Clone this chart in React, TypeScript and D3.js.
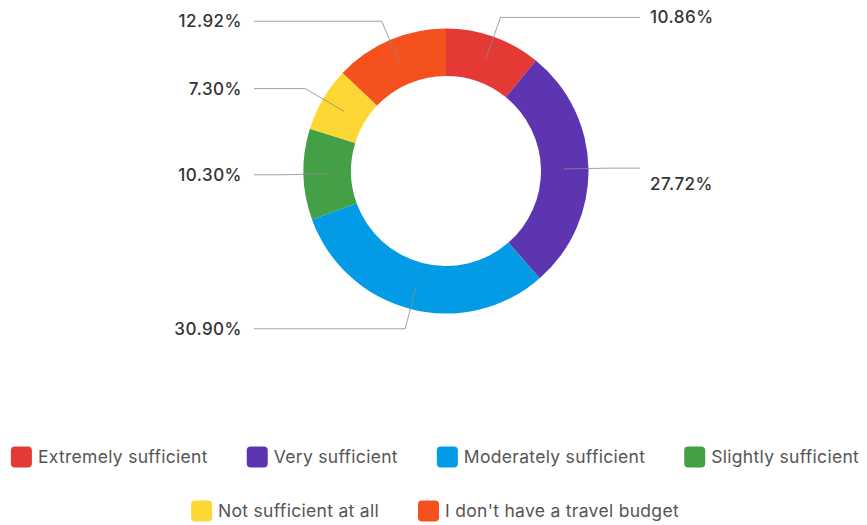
import React from "react";
import * as d3 from "d3";

const categories = [
  "Extremely sufficient",
  "Very sufficient",
  "Moderately sufficient",
  "Slightly sufficient",
  "Not sufficient at all",
  "I don't have a travel budget",
];
const values = [10.86, 27.72, 30.9, 10.3, 7.3, 12.92];
const colors = ["#E53935", "#5E35B1", "#039BE5", "#43A047", "#FDD835", "#F4511E"];
const labelDy = [0, 16, 0, 0, 0, 0];
const legendRows = [[0, 1, 2, 3], [4, 5]];

const W = 867;
const H = 525;
const cx = 446;
const cy = 171;
const outerR = 142.5;
const innerR = 95;
const lineR = 118;
const elbowR = 163;
const labelFont = "500 17px Inter";
const labelLS = 0.5;
const legendFont = "400 17.5px Inter";
const legendLS = 0.3;

function measure(text: string, font: string, ls: number): number {
  const c = document.createElement("canvas");
  const ctx = c.getContext("2d")!;
  ctx.font = font;
  return ctx.measureText(text).width + ls * text.length;
}

export default function App() {
  const pie = d3
    .pie<number>()
    .sort(null)
    .value((d) => d);
  const arcs = pie(values);
  const arc = d3
    .arc<d3.PieArcDatum<number>>()
    .innerRadius(innerR)
    .outerRadius(outerR);

  const sq = 21;
  const gapText = 6;
  const gapItem = 39;
  const legendCenter = 435;
  const rowY = [457, 511];

  return (
    <svg
      width={W}
      height={H}
      style={{ position: "absolute", left: 0, top: 0, background: "#fff" }}
    >
      <g transform={`translate(${cx},${cy})`}>
        {arcs.map((a, i) => (
          <path key={i} d={arc(a) || ""} fill={colors[i]} />
        ))}
      </g>
      {arcs.map((a, i) => {
        const mid = (a.startAngle + a.endAngle) / 2;
        const sx = cx + lineR * Math.sin(mid);
        const sy = cy - lineR * Math.cos(mid);
        const ex = cx + elbowR * Math.sin(mid);
        const ey = cy - elbowR * Math.cos(mid);
        const right = Math.sin(mid) > 0;
        const endX = right ? 640 : 254;
        const tx = right ? 650 : 242;
        return (
          <g key={i}>
            <polyline
              points={`${sx},${sy} ${ex},${ey} ${endX},${ey}`}
              fill="none"
              stroke="#8a8a8a"
              strokeWidth={1}
              opacity={0.8}
            />
            <text
              x={tx}
              y={ey + labelDy[i]}
              dy="0.35em"
              textAnchor={right ? "start" : "end"}
              style={{ font: labelFont, fill: "#333", letterSpacing: `${labelLS}px` }}
            >
              {values[i].toFixed(2)}%
            </text>
          </g>
        );
      })}
      {legendRows.map((row, r) => {
        const widths = row.map(
          (i) => sq + gapText + measure(categories[i], legendFont, legendLS)
        );
        const total = widths.reduce((s, w) => s + w, 0) + gapItem * (row.length - 1);
        let x = legendCenter - total / 2;
        return row.map((i, k) => {
          const x0 = x;
          x += widths[k] + gapItem;
          return (
            <g key={`${r}-${i}`}>
              <rect
                x={x0}
                y={rowY[r] - sq / 2}
                width={sq}
                height={sq}
                rx={4}
                fill={colors[i]}
              />
              <text
                x={x0 + sq + gapText}
                y={rowY[r]}
                dy="0.35em"
                style={{ font: legendFont, fill: "#555", letterSpacing: `${legendLS}px` }}
              >
                {categories[i]}
              </text>
            </g>
          );
        });
      })}
    </svg>
  );
}
